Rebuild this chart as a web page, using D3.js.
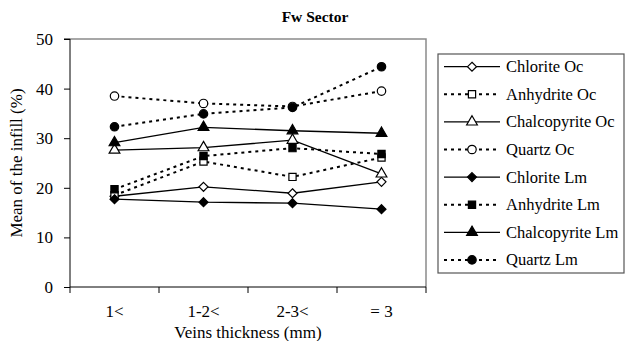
<!DOCTYPE html>
<html>
<head>
<meta charset="utf-8">
<script src="https://cdn.jsdelivr.net/npm/d3@7"></script>
<style>
  body { margin: 0; background: #fff; }
  svg { display: block; font-family: "Liberation Serif", "Times New Roman", serif; }
</style>
</head>
<body>
<svg id="chart" width="626" height="341"></svg>
<script>
// categories on the x axis
const categories = ['1<', '1-2<', '2-3<', '= 3'];
const yTicks = [0, 10, 20, 30, 40, 50];

// series values
const chloriteOc = [18.3, 20.2, 18.9, 21.2];
const anhydriteOc = [18.5, 25.3, 22.2, 26.1];
const chalcopyriteOc = [27.6, 28.1, 29.6, 22.8];
const quartzOc = [38.5, 37.0, 36.4, 39.5];
const chloriteLm = [17.7, 17.1, 16.9, 15.7];
const anhydriteLm = [19.7, 26.4, 28.0, 26.8];
const chalcopyriteLm = [29.1, 32.2, 31.5, 31.0];
const quartzLm = [32.3, 34.9, 36.2, 44.4];

const series = [
  { name: 'Chlorite Oc', values: chloriteOc, marker: 'diamond', fill: '#fff', dashed: false },
  { name: 'Anhydrite Oc', values: anhydriteOc, marker: 'square', fill: '#fff', dashed: true },
  { name: 'Chalcopyrite Oc', values: chalcopyriteOc, marker: 'triangle', fill: '#fff', dashed: false },
  { name: 'Quartz Oc', values: quartzOc, marker: 'circle', fill: '#fff', dashed: true },
  { name: 'Chlorite Lm', values: chloriteLm, marker: 'diamond', fill: '#000', dashed: false },
  { name: 'Anhydrite Lm', values: anhydriteLm, marker: 'square', fill: '#000', dashed: true },
  { name: 'Chalcopyrite Lm', values: chalcopyriteLm, marker: 'triangle', fill: '#000', dashed: false },
  { name: 'Quartz Lm', values: quartzLm, marker: 'circle', fill: '#000', dashed: true }
];

const svg = d3.select('#chart');
const margin = { top: 39, right: 200, bottom: 54, left: 70 };
const width = 426 - margin.left;
const height = 287 - margin.top;

const g = svg.append('g')
  .attr('transform', 'translate(' + margin.left + ',' + margin.top + ')');

const x = d3.scaleBand()
  .domain(categories)
  .range([0, width]);

const y = d3.scaleLinear()
  .domain([0, 50])
  .range([height, 0]);

// square-ish diamond like the spreadsheet marker
const wideDiamond = {
  draw(ctx, size) {
    const r = Math.sqrt(size / 2);
    ctx.moveTo(0, -r);
    ctx.lineTo(r, 0);
    ctx.lineTo(0, r);
    ctx.lineTo(-r, 0);
    ctx.closePath();
  }
};

const symbolType = {
  diamond: wideDiamond,
  square: d3.symbolSquare,
  triangle: d3.symbolTriangle,
  circle: d3.symbolCircle
};
const symbolSize = { diamond: 40, square: 52, triangle: 50, circle: 56 };

// plot frame (grey top/right)
g.append('path')
  .attr('d', 'M0,0H' + width + 'V' + height)
  .attr('fill', 'none')
  .attr('stroke', '#8a8a8a')
  .attr('stroke-width', 1.5);

// axes
const yAxis = g.append('g')
  .call(d3.axisLeft(y).tickValues(yTicks).tickSize(6).tickPadding(11));
const xAxis = g.append('g')
  .attr('transform', 'translate(0,' + height + ')')
  .call(d3.axisBottom(x).tickSize(6).tickPadding(12));

// x axis ticks sit on band edges
xAxis.selectAll('.tick line')
  .attr('x1', x.bandwidth() / 2)
  .attr('x2', x.bandwidth() / 2);
xAxis.append('line')
  .attr('x1', 0).attr('x2', 0).attr('y1', 0).attr('y2', 6)
  .attr('stroke', '#000');
[yAxis, xAxis].forEach(a => {
  a.select('.domain').attr('stroke', '#000');
  a.selectAll('text').attr('font-size', 17).attr('font-family', '"Liberation Serif", serif').attr('fill', '#000');
});
xAxis.select('.domain').attr('d', 'M0,0H' + width);
yAxis.select('.domain').attr('d', 'M-6,0H0V' + height);

const line = d3.line()
  .x((d, i) => x(categories[i]) + x.bandwidth() / 2)
  .y(d => y(d));

series.forEach(s => {
  g.append('path')
    .datum(s.values)
    .attr('fill', 'none')
    .attr('stroke', '#000')
    .attr('stroke-width', s.dashed ? 2 : 1.3)
    .attr('stroke-dasharray', s.dashed ? '3,4' : null)
    .attr('d', line);
});

series.forEach(s => {
  g.selectAll(null)
    .data(s.values)
    .enter().append('path')
    .attr('transform', (d, i) => 'translate(' + (x(categories[i]) + x.bandwidth() / 2) + ',' + y(d) + ')')
    .attr('d', d3.symbol().type(symbolType[s.marker]).size(symbolSize[s.marker]))
    .attr('fill', s.fill)
    .attr('stroke', '#000')
    .attr('stroke-width', 1.2);
});

// title
svg.append('text')
  .attr('x', 315)
  .attr('y', 22)
  .attr('text-anchor', 'middle')
  .attr('font-size', 15.5)
  .attr('font-weight', 'bold')
  .text('Fw Sector');

// axis titles
svg.append('text')
  .attr('x', margin.left + width / 2)
  .attr('y', 338)
  .attr('text-anchor', 'middle')
  .attr('font-size', 17)
  .text('Veins thickness (mm)');

svg.append('text')
  .attr('transform', 'translate(22,' + (margin.top + height / 2) + ') rotate(-90)')
  .attr('text-anchor', 'middle')
  .attr('font-size', 17)
  .text('Mean of the infill (%)');

// legend
const legend = svg.append('g').attr('transform', 'translate(438,54)');
legend.append('rect')
  .attr('x', 0).attr('y', 0)
  .attr('width', 186).attr('height', 219)
  .attr('fill', '#fff')
  .attr('stroke', '#555')
  .attr('stroke-width', 1.2);

const item = legend.selectAll('.item')
  .data(series)
  .enter().append('g')
  .attr('class', 'item')
  .attr('transform', (d, i) => 'translate(0,' + (12.7 + i * 27.6) + ')');

item.append('line')
  .attr('x1', 6).attr('x2', 62)
  .attr('stroke', '#000')
  .attr('stroke-width', d => d.dashed ? 2 : 1.3)
  .attr('stroke-dasharray', d => d.dashed ? '3,4' : null);

item.append('path')
  .attr('transform', 'translate(34,0)')
  .attr('d', d => d3.symbol().type(symbolType[d.marker]).size(symbolSize[d.marker])())
  .attr('fill', d => d.fill)
  .attr('stroke', '#000')
  .attr('stroke-width', 1.2);

item.append('text')
  .attr('x', 68)
  .attr('y', 5.5)
  .attr('font-size', 16.5)
  .text(d => d.name);
</script>
</body>
</html>
